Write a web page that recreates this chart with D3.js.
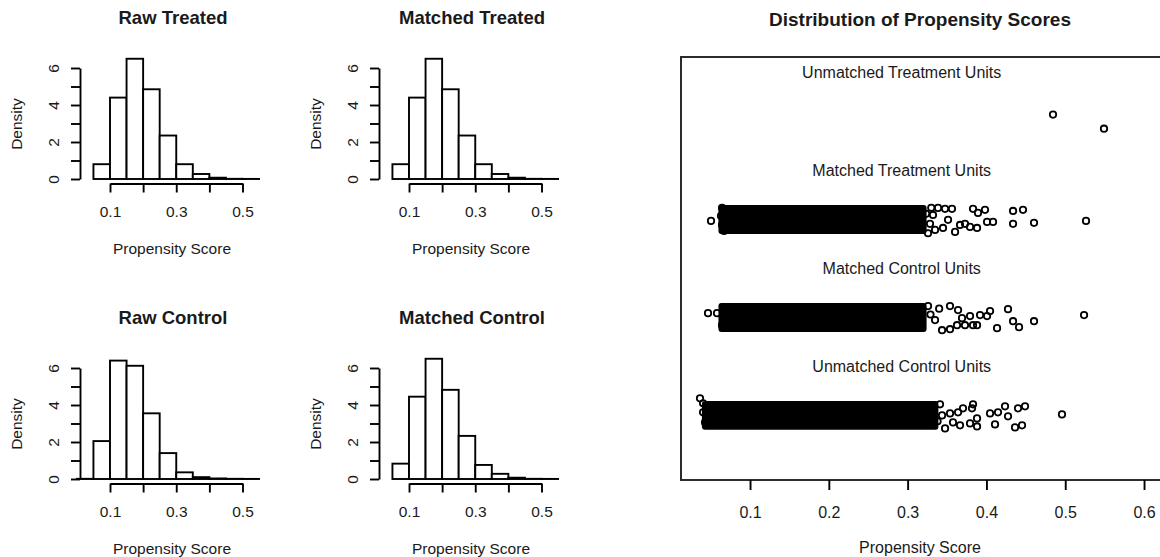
<!DOCTYPE html>
<html>
<head>
<meta charset="utf-8">
<script src="https://cdn.jsdelivr.net/npm/d3@7"></script>
<style>
  body { margin: 0; background: #fff; overflow: hidden; }
  svg { display: block; font-family: "Liberation Sans", Arial, sans-serif; }
</style>
</head>
<body>
<div id="chart"></div>
<script>
// histogram breaks (left edges), bin width 0.05
const binWidth = 0.05;
const breaksTreated = [0.05, 0.10, 0.15, 0.20, 0.25, 0.30, 0.35, 0.40, 0.45, 0.50];
const breaksControl = [0.00, 0.05, 0.10, 0.15, 0.20, 0.25, 0.30, 0.35, 0.40, 0.45, 0.50];

const rawTreated     = [0.80, 4.40, 6.50, 4.85, 2.35, 0.80, 0.27, 0.07, 0.01, 0.005];
const matchedTreated = [0.80, 4.40, 6.50, 4.85, 2.35, 0.80, 0.27, 0.07, 0.01, 0.005];
const rawControl     = [0.01, 2.05, 6.40, 6.12, 3.55, 1.40, 0.36, 0.10, 0.03, 0.01, 0.005];
const matchedControl = [0.83, 4.45, 6.50, 4.82, 2.33, 0.76, 0.28, 0.07, 0.01, 0.005];

const histTitles = ["Raw Treated", "Matched Treated", "Raw Control", "Matched Control"];
const xTicksHist = [0.1, 0.2, 0.3, 0.4, 0.5];
const xTickLabelsHist = ["0.1", "", "0.3", "", "0.5"];
const yTicksHist = [0, 1, 2, 3, 4, 5, 6];
const yTickLabelsHist = ["0", "", "2", "", "4", "", "6"];

// jitter plot: groups bottom to top (y = 1..4)
const groups = ["Unmatched Control Units", "Matched Control Units", "Matched Treatment Units", "Unmatched Treatment Units"];
// dense part of each cloud [lo, hi] of score, null = no dense part
const bandLo = [0.043, 0.064, 0.064, null];
const bandHi = [0.335, 0.320, 0.320, null];
// individual points [score, jittered y]
const unmatchedTreatPts = [[0.4845, 4.072], [0.5492, 3.928]];
const matchedTreatPts = [
  [0.0505, 2.986], [0.0645, 3.119], [0.0632, 3.037], [0.0645, 2.945], [0.0670, 2.884],
  [0.3234, 3.058], [0.3284, 2.956], [0.3259, 2.860], [0.3322, 3.047], [0.3300, 3.120],
  [0.3386, 3.119], [0.3475, 3.109], [0.3563, 3.109], [0.3348, 2.894], [0.3449, 2.914],
  [0.3513, 2.997], [0.3602, 2.874], [0.3665, 2.945], [0.3728, 2.956], [0.3792, 2.925],
  [0.3881, 2.914], [0.3830, 3.109], [0.3893, 3.068], [0.3982, 3.099], [0.4008, 2.976],
  [0.4084, 2.976], [0.4338, 3.088], [0.4464, 3.099], [0.4338, 2.956], [0.4604, 2.966],
  [0.5264, 2.986]
];
const matchedCtrlPts = [
  [0.0467, 2.044], [0.0581, 2.044], [0.0645, 1.921], [0.0657, 2.106],
  [0.3259, 2.116], [0.3348, 1.973], [0.3437, 1.870], [0.3290, 2.030], [0.3400, 2.090],
  [0.3538, 2.116], [0.3640, 2.075], [0.3919, 2.024], [0.4008, 2.014], [0.3881, 1.921],
  [0.3830, 1.921], [0.3728, 1.921], [0.3627, 1.921], [0.3538, 1.880], [0.3792, 2.014],
  [0.3690, 1.993], [0.4046, 2.065], [0.4274, 2.085], [0.4135, 1.891], [0.4338, 1.962],
  [0.4414, 1.901], [0.4604, 1.962], [0.5239, 2.024]
];
const unmatchedCtrlPts = [
  [0.0365, 1.174], [0.0404, 1.123], [0.0404, 1.031], [0.0429, 0.928],
  [0.3411, 1.113], [0.3475, 0.867], [0.3437, 1.000], [0.3380, 0.940],
  [0.3830, 1.113], [0.3817, 1.072], [0.3703, 1.072], [0.3640, 1.031], [0.3881, 0.969],
  [0.3792, 0.918], [0.3881, 0.887], [0.3665, 0.898], [0.3576, 0.928], [0.3538, 1.020],
  [0.4046, 1.020], [0.4147, 1.031], [0.4236, 1.092], [0.4274, 0.990], [0.4109, 0.908],
  [0.4363, 0.877], [0.4452, 0.898], [0.4401, 1.072], [0.4490, 1.092], [0.4959, 1.010]
];
const xTicksMain = [0.1, 0.2, 0.3, 0.4, 0.5, 0.6];

const W = 1160, H = 557;
const textCol = "#1a1a1a";
const fontFam = "Liberation Sans, Arial, sans-serif";

const svg = d3.select("#chart").append("svg")
  .attr("width", W).attr("height", H);

// ---- 4 histograms ----
const panels = [
  { title: histTitles[0], breaks: breaksTreated, dens: rawTreated, dx: 0, dy: 0 },
  { title: histTitles[1], breaks: breaksTreated, dens: matchedTreated, dx: 299, dy: 0 },
  { title: histTitles[2], breaks: breaksControl, dens: rawControl, dx: 0, dy: 300 },
  { title: histTitles[3], breaks: breaksControl.slice(1), dens: matchedControl, dx: 299, dy: 300 }
];

panels.forEach(p => {
  const g = svg.append("g").attr("transform", `translate(${p.dx},${p.dy})`);
  const x = d3.scaleLinear().domain([0.1, 0.5]).range([110, 242.5]);
  const y = d3.scaleLinear().domain([0, 6]).range([179, 68]);

  // bars
  g.selectAll("rect.bar")
    .data(p.dens.map((d, i) => ({ x0: p.breaks[i], v: d })))
    .enter().append("rect")
    .attr("class", "bar")
    .attr("x", d => x(d.x0))
    .attr("y", d => y(d.v))
    .attr("width", d => x(d.x0 + binWidth) - x(d.x0))
    .attr("height", d => y(0) - y(d.v))
    .attr("fill", "#fff")
    .attr("stroke", "#000")
    .attr("stroke-width", 1.9);

  // x axis
  const xAxis = g.append("g").attr("transform", "translate(0,183.5)")
    .call(d3.axisBottom(x).tickValues(xTicksHist).tickSize(9).tickSizeOuter(0)
      .tickFormat((d, i) => xTickLabelsHist[i]));
  xAxis.select(".domain").attr("stroke", "#000").attr("stroke-width", 1.9);
  xAxis.selectAll(".tick line").attr("stroke", "#000").attr("stroke-width", 1.9);
  xAxis.selectAll(".tick text").attr("font-size", 15.5).attr("fill", textCol).attr("dy", "1.4em")
    .attr("font-family", fontFam);

  // y axis
  const yAxis = g.append("g").attr("transform", "translate(80,0)")
    .call(d3.axisLeft(y).tickValues(yTicksHist).tickSize(9).tickSizeOuter(0)
      .tickFormat((d, i) => yTickLabelsHist[i]));
  yAxis.select(".domain").attr("stroke", "#000").attr("stroke-width", 1.9);
  yAxis.selectAll(".tick line").attr("stroke", "#000").attr("stroke-width", 1.9);
  yAxis.selectAll(".tick text")
    .attr("font-size", 15.5).attr("fill", textCol)
    .attr("font-family", fontFam)
    .attr("x", 0).attr("dy", 0)
    .attr("text-anchor", "middle")
    .attr("transform", "translate(-27,0) rotate(-90)")
    .attr("dominant-baseline", "central");

  g.append("text")
    .attr("x", 173).attr("y", 24)
    .attr("text-anchor", "middle")
    .attr("font-size", 18.5).attr("font-weight", "bold").attr("fill", textCol)
    .text(p.title);

  g.append("text")
    .attr("x", 172).attr("y", 254)
    .attr("text-anchor", "middle")
    .attr("font-size", 15.5).attr("fill", textCol)
    .text("Propensity Score");

  g.append("text")
    .attr("transform", "translate(22,124) rotate(-90)")
    .attr("text-anchor", "middle")
    .attr("font-size", 15.5).attr("fill", textCol)
    .text("Density");
});

// ---- jitter plot ----
const xs = d3.scaleLinear().domain([0.0124, 0.619]).range([681, 1159]);
const ys = d3.scaleLinear().domain([0.34, 4.66]).range([480, 57]);
const main = svg.append("g");

// box (right edge falls just outside the picture)
main.append("rect")
  .attr("x", xs.range()[0]).attr("y", ys.range()[1])
  .attr("width", xs.range()[1] - xs.range()[0] + 6)
  .attr("height", ys.range()[0] - ys.range()[1])
  .attr("fill", "none").attr("stroke", "#222").attr("stroke-width", 1.9);

const r = 3.2;
groups.forEach((name, i) => {
  if (bandLo[i] !== null) {
    main.append("rect")
      .attr("x", xs(bandLo[i]) - r)
      .attr("y", ys(i + 1 + 0.115) - r)
      .attr("width", xs(bandHi[i]) - xs(bandLo[i]) + 2 * r)
      .attr("height", ys(i + 1 - 0.115) - ys(i + 1 + 0.115) + 2 * r)
      .attr("rx", 3)
      .attr("fill", "#000");
  }
  main.append("text")
    .attr("x", xs(0.2925)).attr("y", ys(i + 1.5))
    .attr("text-anchor", "middle")
    .attr("dominant-baseline", "central")
    .attr("font-size", 16).attr("fill", textCol)
    .text(name);
});

const allPts = [].concat(unmatchedCtrlPts, matchedCtrlPts, matchedTreatPts, unmatchedTreatPts);
main.selectAll("circle")
  .data(allPts)
  .enter().append("circle")
  .attr("cx", d => xs(d[0]))
  .attr("cy", d => ys(d[1]))
  .attr("r", r)
  .attr("fill", "none")
  .attr("stroke", "#000")
  .attr("stroke-width", 1.8);

const mAxis = main.append("g").attr("transform", "translate(0,480)")
  .call(d3.axisBottom(xs).tickValues(xTicksMain).tickSize(10).tickSizeOuter(0)
    .tickFormat(d3.format(".1f")));
mAxis.select(".domain").remove();
mAxis.selectAll(".tick line").attr("stroke", "#000").attr("stroke-width", 1.9);
mAxis.selectAll(".tick text").attr("font-size", 16).attr("fill", textCol).attr("dy", "1.55em")
  .attr("font-family", fontFam);

main.append("text")
  .attr("x", 920).attr("y", 26)
  .attr("text-anchor", "middle")
  .attr("font-size", 19).attr("font-weight", "bold").attr("fill", textCol)
  .text("Distribution of Propensity Scores");

main.append("text")
  .attr("x", 920).attr("y", 553)
  .attr("text-anchor", "middle")
  .attr("font-size", 16).attr("fill", textCol)
  .text("Propensity Score");
</script>
</body>
</html>
